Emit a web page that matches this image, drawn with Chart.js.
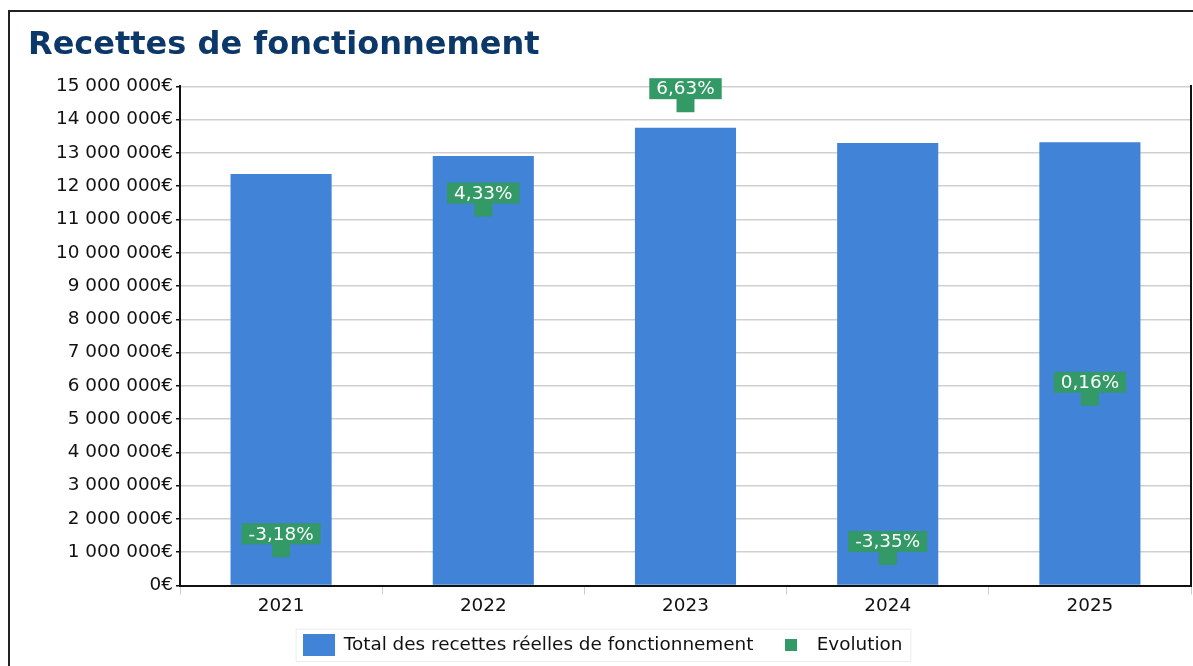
<!DOCTYPE html>
<html>
<head>
<meta charset="utf-8">
<script src="https://cdn.jsdelivr.net/npm/chart.js@4/dist/chart.umd.min.js"></script>
<style>
  html, body { margin: 0; padding: 0; background: #fff; overflow: hidden; }
  .frame { position: absolute; left: 8px; top: 10px; width: 1300px; height: 800px;
           border-left: 2px solid #222; border-top: 2px solid #222; }
  .wrap { position: absolute; left: 0; top: 0; width: 1193px; height: 666px; }
</style>
</head>
<body>
<div class="frame"></div>
<div class="wrap"><canvas id="recettes"></canvas></div>
<script>
// Données
const annees = ['2021', '2022', '2023', '2024', '2025'];
const recettes = [12370000, 12905000, 13760000, 13300000, 13320000];
const evolution = [-3.18, 4.33, 6.63, -3.35, 0.16];
const yTicks = [0, 1, 2, 3, 4, 5, 6, 7, 8, 9, 10, 11, 12, 13, 14, 15].map(v => v * 1000000);

const BLEU = '#4183d7';
const VERT = '#339966';
const FONT = "'DejaVu Sans', sans-serif";
const TXT = 18.4;

function euros(v) {
    return String(Math.round(v)).replace(/\B(?=(\d{3})+(?!\d))/g, ' ') + '€';
}
function pct(v) {
    return v.toFixed(2).replace('.', ',') + '%';
}

// petites vignettes pour la légende
function swatch(w, h, color) {
    const c = document.createElement('canvas');
    c.width = w; c.height = h;
    const g = c.getContext('2d');
    g.fillStyle = color;
    g.fillRect(0, 0, w, h);
    return c;
}
const swatches = [swatch(32, 22, BLEU), swatch(12, 12, VERT)];

// étiquettes vertes au-dessus des points d'évolution
const evoLabels = {
    id: 'evoLabels',
    afterDatasetsDraw(chart) {
        const ctx = chart.ctx;
        const meta = chart.getDatasetMeta(1);
        ctx.save();
        ctx.font = TXT + 'px ' + FONT;
        ctx.textAlign = 'center';
        ctx.textBaseline = 'middle';
        meta.data.forEach((pt, i) => {
            const txt = pct(evolution[i]);
            const w = ctx.measureText(txt).width + 14;
            const h = 21;
            const bottom = pt.y - 4;
            ctx.fillStyle = VERT;
            ctx.fillRect(pt.x - w / 2, bottom - h, w, h);
            ctx.fillStyle = '#fff';
            ctx.fillText(txt, pt.x, bottom - h / 2 + 1);
        });
        ctx.restore();
    }
};

// légende recentrée sous la page + cadre léger autour
const legendFrame = {
    id: 'legendFrame',
    afterLayout(chart) {
        const l = chart.legend;
        if (!l) return;
        l.left -= 7;
        l.right -= 7;
    },
    afterDraw(chart) {
        const boxes = chart.legend && chart.legend.legendHitBoxes;
        if (!boxes || !boxes.length) return;
        const left = Math.min(...boxes.map(b => b.left)) - 7;
        const right = Math.max(...boxes.map(b => b.left + b.width)) + 8;
        const top = Math.min(...boxes.map(b => b.top)) - 7;
        const bottom = Math.max(...boxes.map(b => b.top + b.height)) + 7;
        const ctx = chart.ctx;
        ctx.save();
        ctx.strokeStyle = '#ececec';
        ctx.lineWidth = 1;
        ctx.strokeRect(left + 0.5, top + 0.5, right - left, bottom - top);
        ctx.restore();
    }
};

const ctx = document.getElementById('recettes').getContext('2d');
new Chart(ctx, {
    data: {
        labels: annees,
        datasets: [{
            type: 'bar',
            label: 'Total des recettes réelles de fonctionnement',
            data: recettes,
            backgroundColor: BLEU,
            barPercentage: 0.5,
            categoryPercentage: 1,
            yAxisID: 'y',
            order: 2
        }, {
            type: 'line',
            label: 'Evolution',
            data: evolution,
            showLine: false,
            pointStyle: 'rect',
            pointRadius: 12.7,
            pointHoverRadius: 12.7,
            backgroundColor: VERT,
            borderColor: VERT,
            borderWidth: 0,
            yAxisID: 'y2',
            order: 1
        }]
    },
    options: {
        responsive: true,
        maintainAspectRatio: false,
        animation: false,
        layout: { autoPadding: false, padding: { left: 28, right: 2, top: 26, bottom: 2 } },
        plugins: {
            title: {
                display: true,
                text: 'Recettes de fonctionnement',
                align: 'start',
                color: '#0c3769',
                font: { family: FONT, size: 32, weight: 'bold' },
                padding: { top: 0, bottom: 22 }
            },
            legend: {
                position: 'bottom',
                labels: {
                    color: '#111',
                    font: { family: FONT, size: TXT },
                    usePointStyle: true,
                    pointStyleWidth: 32,
                    boxHeight: 22,
                    padding: 22,
                    generateLabels(chart) {
                        const items = Chart.defaults.plugins.legend.labels.generateLabels(chart);
                        items.sort((a, b) => a.datasetIndex - b.datasetIndex);
                        items.forEach(it => { it.pointStyle = swatches[it.datasetIndex]; });
                        return items;
                    }
                }
            },
            tooltip: { enabled: false }
        },
        scales: {
            x: {
                offset: true,
                afterFit(scale) { scale.height -= 5; },
                grid: { display: true, drawOnChartArea: false, offset: true, color: '#ccc', tickLength: 9 },
                border: { display: true, color: '#111', width: 2 },
                ticks: { color: '#111', font: { family: FONT, size: TXT }, padding: 1 }
            },
            y: {
                min: 0,
                max: 15000000,
                afterBuildTicks(scale) { scale.ticks = yTicks.map(v => ({ value: v })); },
                afterFit(scale) { scale.width = 152; },
                grid: { color: '#cfcfcf', lineWidth: 1.5, tickColor: '#111', tickLength: 4 },
                border: { display: true, color: '#111', width: 2 },
                ticks: {
                    color: '#111',
                    padding: 3,
                    font: { family: FONT, size: TXT },
                    callback: v => euros(v)
                }
            },
            y2: {
                position: 'right',
                min: -4,
                max: 7,
                afterFit(scale) { scale.width = 0; },
                grid: { display: false, drawOnChartArea: false, drawTicks: false },
                border: { display: true, color: '#111', width: 2 },
                ticks: { display: false }
            }
        }
    },
    plugins: [evoLabels, legendFrame]
});
</script>
</body>
</html>
